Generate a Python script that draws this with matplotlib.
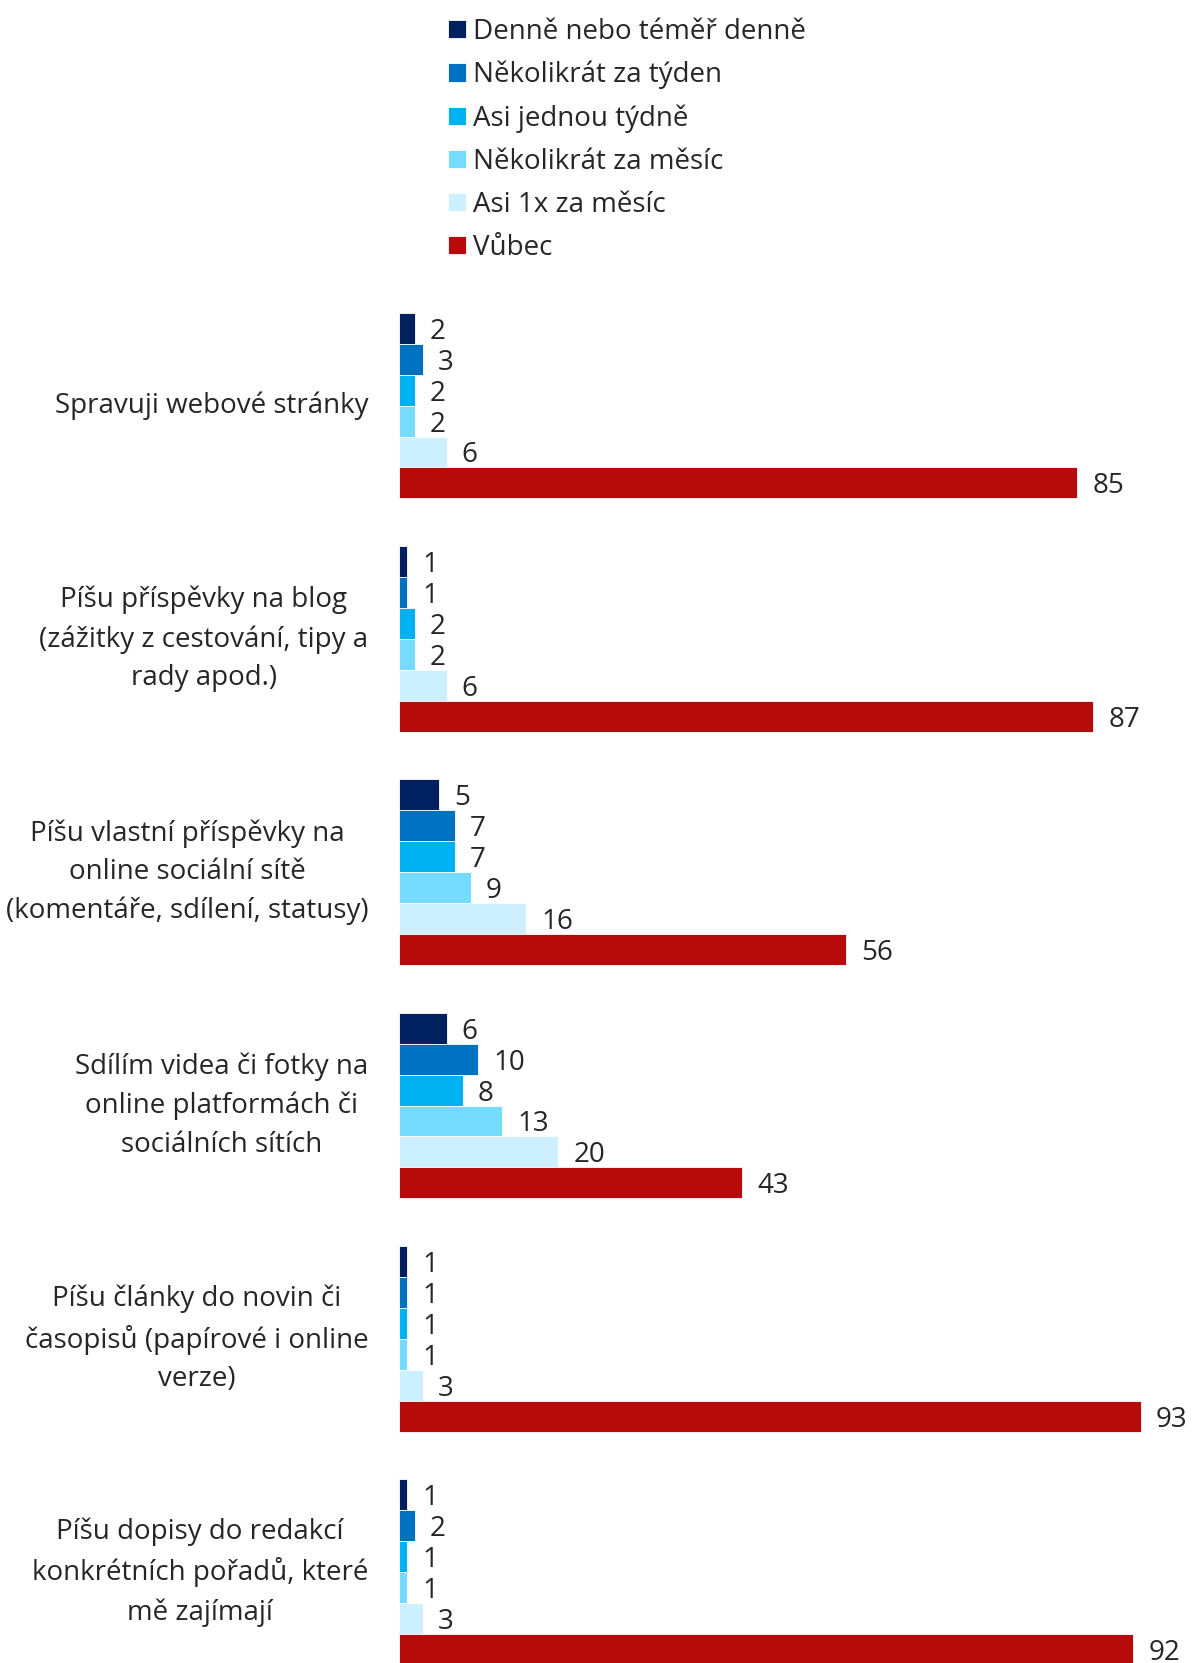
import numpy as np
import matplotlib
matplotlib.use("Agg")
import matplotlib.pyplot as plt

plt.rcParams['font.family'] = ['Open Sans', 'DejaVu Sans']

# Data
categories = [
    "Spravuji webové stránky",
    "Píšu příspěvky na blog\n(zážitky z cestování, tipy a\nrady apod.)",
    "Píšu vlastní příspěvky na\nonline sociální sítě\n(komentáře, sdílení, statusy)",
    "Sdílím videa či fotky na\nonline platformách či\nsociálních sítích",
    "Píšu články do novin či\nčasopisů (papírové i online\nverze)",
    "Píšu dopisy do redakcí\nkonkrétních pořadů, které\nmě zajímají",
]
series_names = [
    "Denně nebo téměř denně",
    "Několikrát za týden",
    "Asi jednou týdně",
    "Několikrát za měsíc",
    "Asi 1x za měsíc",
    "Vůbec",
]
denne = [2, 1, 5, 6, 1, 1]
nekolikrat_tyden = [3, 1, 7, 10, 1, 2]
jednou_tydne = [2, 2, 7, 8, 1, 1]
nekolikrat_mesic = [2, 2, 9, 13, 1, 1]
jednou_mesic = [6, 6, 16, 20, 3, 3]
vubec = [85, 87, 56, 43, 93, 92]
series = [denne, nekolikrat_tyden, jednou_tydne, nekolikrat_mesic, jednou_mesic, vubec]
colors = ['#002060', '#0070C0', '#00B0F0', '#75DBFF', '#CCF0FF', '#B70B0B']

W, H = 1192, 1663
fig = plt.figure(figsize=(W / 100, H / 100), dpi=100)

# axes placement (pixels)
x0 = 398.7
top = 312.8
bar_px = 30.93
pitch = 7.543          # group pitch in bar heights
px_per_unit = 7.98

ax = fig.add_axes([x0 / W, 0, 1 - x0 / W, 1 - top / H])
ax.set_xlim(0, (W - x0) / px_per_unit)
ax.set_ylim((H - top) / bar_px, 0)

text_color = '#262626'
fs = 20

group_pos = np.arange(len(categories)) * pitch
for j, (name, vals, c) in enumerate(zip(series_names, series, colors)):
    bars = ax.barh(group_pos + j + 0.5, vals, height=1.0, color=c,
                   edgecolor='white', linewidth=0.6, label=name)
    labels = ax.bar_label(bars, padding=11, fontsize=fs, color=text_color)
    for t in labels:
        t.set_va('center_baseline')

for i, cat in enumerate(categories):
    ax.text(-3.8, group_pos[i] + 3, cat, ha='right', va='center',
            multialignment='center', fontsize=fs, color=text_color,
            linespacing=1.5)

ax.axis('off')

handles, labels = ax.get_legend_handles_labels()
fig.legend(handles, labels, loc='upper left', bbox_to_anchor=(434 / W, 1 - 4 / H),
           frameon=False, fontsize=fs, handlelength=0.65, handleheight=0.65,
           handletextpad=0.25, labelspacing=0.54, borderpad=0, labelcolor=text_color)

fig.savefig('out.png', dpi=100)
